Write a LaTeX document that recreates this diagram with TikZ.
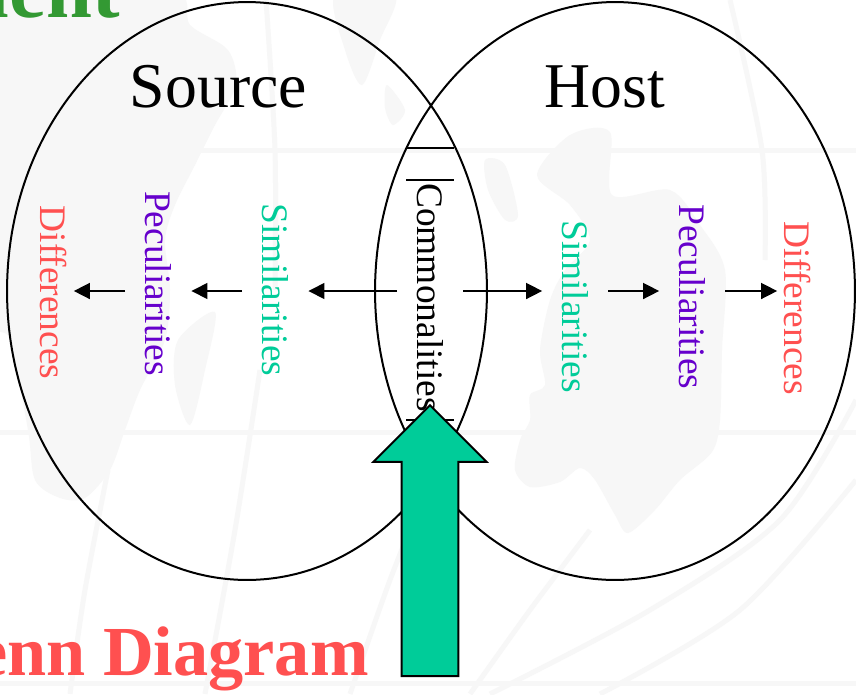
\documentclass[tikz,border=0pt]{standalone}
\usepackage{fontspec}
\setmainfont{Liberation Serif}
\usetikzlibrary{shapes.geometric,shapes.arrows,arrows.meta}
\definecolor{simcolor}{HTML}{00CC99}
\definecolor{peccolor}{HTML}{6600CC}
\definecolor{difcolor}{HTML}{FF5050}
\definecolor{headcolor}{HTML}{339933}
\definecolor{mapcolor}{HTML}{F7F7F7}
\tikzset
{
    setnode/.style  = {ellipse, draw=black, line width=0.04cm, inner sep=0pt, minimum width=9.6cm, minimum height=11.56cm},
    setlabel/.style = {anchor=base, inner sep=0pt, font=\fontsize{36.3}{40}\selectfont},
    item/.style     = {anchor=base, rotate=-90, inner sep=0pt, outer sep=0.4cm, font=\fontsize{21.3}{24}\selectfont},
    diffitem/.style = {item, outer sep=0.14cm, text=difcolor},
    headline/.style = {anchor=base east, inner sep=0pt, font=\bfseries\fontsize{40}{44}\selectfont},
    link/.style     = {->, line width=0.03cm},
    barline/.style  = {line width=0.03cm},
    landmass/.style = {fill=mapcolor, draw=none},
    gridline/.style = {draw=mapcolor, line width=0.1cm},
    bigarrow/.style = {single arrow, draw=black, line width=0.04cm, fill=simcolor, inner xsep=0pt, inner ysep=0.55cm, minimum height=5.42cm, single arrow head extend=0.56cm, single arrow tip angle=90, rotate=90}
}
\begin{document}
\begin{tikzpicture}[x=0.02cm, y=-0.02cm, >={Triangle[length=0.32cm, width=0.32cm]}]
    \useasboundingbox (0,0) rectangle (856,694);
    \clip (0,0) rectangle (856,694);
    % faint map behind the sets
    \fill[white] (0,0) rectangle (856,694);
    \fill[landmass] plot[smooth cycle, tension=0.5] coordinates {(-10,-10) (170,-10) (190,25) (228,50) (236,85) (215,125) (195,165) (175,205) (165,240) (170,290) (165,340) (140,390) (125,430) (110,470) (85,498) (60,498) (35,480) (28,430) (10,340) (-10,300)};
    \fill[landmass] plot[smooth cycle, tension=0.5] coordinates {(178,340) (215,312) (205,370) (190,425) (175,385)};
    \fill[landmass] plot[smooth cycle, tension=0.5] coordinates {(335,-5) (395,-5) (380,40) (362,85) (345,50)};
    \fill[landmass] plot[smooth cycle, tension=0.5] coordinates {(387,85) (405,110) (393,125) (385,108)};
    \fill[landmass] plot[smooth cycle, tension=0.5] coordinates {(537,175) (570,135) (610,132) (612,195) (670,190) (700,225) (725,270) (722,350) (720,420) (712,452) (680,480) (655,510) (628,533) (615,515) (595,480) (580,468) (560,482) (530,487) (515,470) (520,440) (530,420) (530,395) (545,385) (540,350) (550,300) (565,270) (590,240) (570,205)};
    \fill[landmass] plot[smooth cycle, tension=0.5] coordinates {(485,160) (505,165) (518,215) (505,220) (488,190)};
    \draw[gridline] (0,150) -- (856,150);
    \draw[gridline] (0,432) -- (856,432);
    \draw[gridline] (0,683) -- (856,683);
    \draw[gridline] plot[smooth] coordinates {(266,0) (275,150) (275,290)};
    \draw[gridline] plot[smooth] coordinates {(70,694) (85,590) (108,470)};
    \draw[gridline] plot[smooth] coordinates {(205,694) (235,530) (260,370)};
    \draw[gridline] plot[smooth] coordinates {(350,694) (390,580) (430,480)};
    \draw[gridline] plot[smooth] coordinates {(470,694) (530,610) (590,530)};
    \draw[gridline] plot[smooth] coordinates {(490,694) (650,610) (780,520) (856,400)};
    \draw[gridline] plot[smooth] coordinates {(600,694) (740,610) (856,480)};
    \draw[gridline] plot[smooth] coordinates {(730,0) (762,150) (765,260)};
    % the two sets
    \node [setnode] (source) at (247,291) {};
    \node [setnode] (host) at (615,291) {};
    \draw[barline] (407,148) -- (454,148);
    \draw[barline] (406,180) -- (454,180);
    \draw[barline] (406,420) -- (454,420);
    \node [setlabel] (sourcelabel) at (218.5,107) {Source};
    \node [setlabel] (hostlabel) at (605,107) {Host};
    % labels read downwards
    \coordinate (midline) at (0,291);
    \node [item] (commonalities) at (417.5,297.5) {Commonalities};
    \node [item, text=simcolor] (simleft) at (262.5,290) {Similarities};
    \node [item, text=peccolor] (pecleft) at (145.5,283.5) {Peculiarities};
    \node [diffitem] (difleft) at (40.5,292.5) {Differences};
    \node [item, text=simcolor] (simright) at (562.5,306.5) {Similarities};
    \node [item, text=peccolor] (pecright) at (679.5,297) {Peculiarities};
    \node [diffitem] (difright) at (784.5,308) {Differences};
    \draw[link] (commonalities.south |- midline) -- (simleft.north |- midline);
    \draw[link] (simleft.south |- midline) -- (pecleft.north |- midline);
    \draw[link] (pecleft.south |- midline) -- (difleft.north |- midline);
    \draw[link] (commonalities.north |- midline) -- (simright.south |- midline);
    \draw[link] (simright.north |- midline) -- (pecright.south |- midline);
    \draw[link] (pecright.north |- midline) -- (difright.south |- midline);
    \node [bigarrow] (pointer) at (430,555) {};
    % cut off by the edge of the picture
    \node [headline, text=headcolor, font=\bfseries\fontsize{47}{50}\selectfont] (topline) at (120,17) {ment};
    \node [headline, text=difcolor] (bottomline) at (369,675) {Venn Diagram};
\end{tikzpicture}
\end{document}
